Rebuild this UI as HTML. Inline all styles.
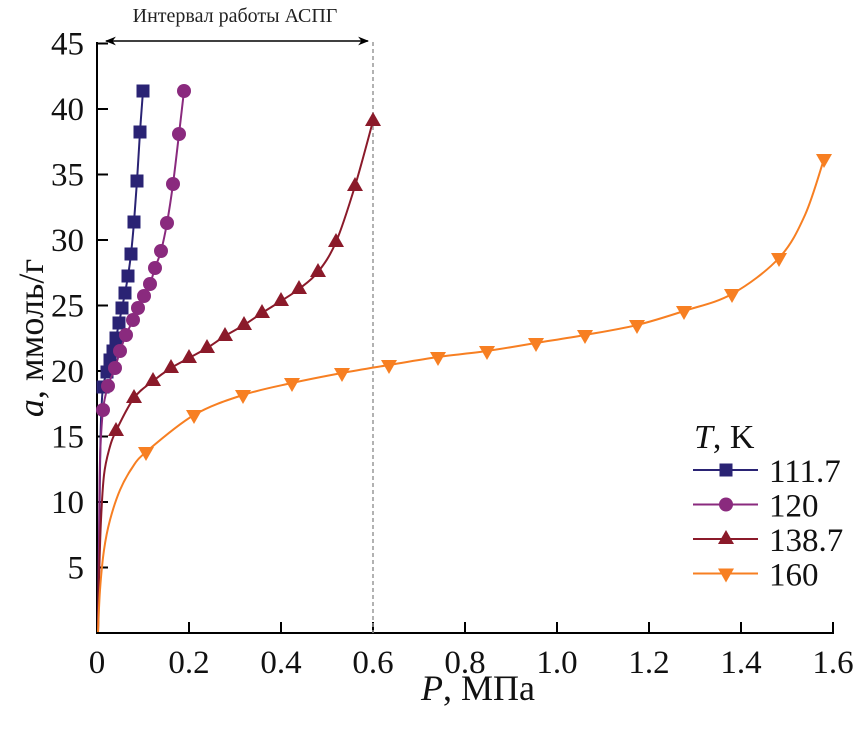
<!DOCTYPE html>
<html><head><meta charset="utf-8"><style>html,body{margin:0;padding:0;background:#fff}</style></head>
<body>
<svg id="s" width="855" height="732" xmlns="http://www.w3.org/2000/svg" font-family="Liberation Serif, serif">
<defs>
<marker id="ah" viewBox="0 0 10 10" refX="9" refY="5" markerWidth="11" markerHeight="11" orient="auto-start-reverse" markerUnits="userSpaceOnUse"><path d="M0,1 L10,5 L0,9 L3,5 Z" fill="#000"/></marker>
</defs>
<line x1="97" y1="42" x2="97" y2="633" stroke="#000" stroke-width="2"/>
<line x1="96" y1="633" x2="834" y2="633" stroke="#000" stroke-width="2"/>
<g id="ticks" stroke="#000" stroke-width="2"></g>
<g id="labels" font-size="33" fill="#111"></g>
<line x1="373" y1="42" x2="373" y2="633" stroke="#999" stroke-width="1.5" stroke-dasharray="4,3"/>
<line x1="106" y1="41" x2="368" y2="41" stroke="#000" stroke-width="1.5" marker-start="url(#ah)" marker-end="url(#ah)"/>
<text x="235" y="22" font-size="20" text-anchor="middle" fill="#222">Интервал работы АСПГ</text>
<text x="478" y="700" font-size="36" text-anchor="middle" fill="#111"><tspan font-style="italic">P</tspan>, МПа</text>
<text transform="translate(43,338) rotate(-90)" font-size="36" text-anchor="middle" fill="#111"><tspan font-style="italic">a</tspan>, ммоль/г</text>
<g id="series"></g>
<text x="694" y="448" font-size="34" fill="#111"><tspan font-style="italic">T</tspan>, K</text>
<g id="leg" font-size="33" fill="#111"></g>
</svg>
<script>
var NS="http://www.w3.org/2000/svg";
function el(p,t,a){var e=document.createElementNS(NS,t);for(var k in a)e.setAttribute(k,a[k]);p.appendChild(e);return e;}
var T=document.getElementById('ticks'),L=document.getElementById('labels');
for(var i=0;i<=8;i++){var x=97+i*92;if(i>0)el(T,'line',{x1:x,y1:633,x2:x,y2:622});
 var t=el(L,'text',{x:x,y:673,'text-anchor':'middle'});t.textContent=i==0?'0':(i*0.2).toFixed(1);}
for(var v=5;v<=45;v+=5){var y=633-v*13.1;el(T,'line',{x1:97,y1:y,x2:108,y2:y});
 var t=el(L,'text',{x:84,y:y+11,'text-anchor':'end'});t.textContent=v;}
var S=document.getElementById('series');
function mk(g,type,x,y,c){
 if(type=='sq')el(g,'rect',{x:x-6.5,y:y-6.5,width:13,height:13,fill:c});
 else if(type=='ci')el(g,'circle',{cx:x,cy:y,r:7,fill:c});
 else if(type=='up')el(g,'path',{d:'M'+x+','+(y-9)+'L'+(x+8)+','+(y+5)+'L'+(x-8)+','+(y+5)+'Z',fill:c});
 else el(g,'path',{d:'M'+x+','+(y+9)+'L'+(x+8)+','+(y-5)+'L'+(x-8)+','+(y-5)+'Z',fill:c});}
function smooth(p){var s='M'+p[0][0]+','+p[0][1];
 for(var i=0;i<p.length-1;i++){var a=p[i-1]||p[i],b=p[i],c=p[i+1],d=p[i+2]||c;
  s+='C'+(b[0]+(c[0]-a[0])/6)+','+(b[1]+(c[1]-a[1])/6)+' '+(c[0]-(d[0]-b[0])/6)+','+(c[1]-(d[1]-b[1])/6)+' '+c[0]+','+c[1];}
 return s;}
var data=[
 ['#2a2374','sq',[[98,632],[99,560],[100,470],[101,420],[103,387],[107,372],[110,360],[113,351],[116,338],[119,323],[122,308],[125,293],[128,276],[131,254],[134,222],[137,181],[140,132],[143,91]],4],
 ['#8a2a7e','ci',[[98,632],[99,540],[100,460],[103,410],[108,386],[115,368],[120,351],[126,335],[133,320],[138,308],[144,296],[150,284],[155,268],[161,251],[167,223],[173,184],[179,134],[184,91]],3],
 ['#8b1a2a','up',[[98,632],[99,580],[101,520],[104,475],[109,450],[116,431],[134,398],[153,381],[171,368],[189,358],[207,348],[225,336],[244,325],[262,313],[281,301],[299,289],[318,272],[336,242],[355,186],[373,121]],5],
 ['#f77f22','dn',[[98,632],[100,590],[104,550],[110,520],[120,490],[132,468],[146,452],[194,415],[243,395],[292,383],[342,373],[389,365],[438,357],[487,351],[536,343],[585,335],[637,325],[684,311],[732,294],[779,258],[805,215],[824,159]],6]];
data.forEach(function(d,k){
 var pts=d[2];
 el(S,'path',{d:smooth(pts),fill:'none',stroke:d[0],'stroke-width':2});
 pts.slice(d[3]).forEach(function(p){ if(k==3&&p[0]==805)return; mk(S,d[1],p[0],p[1],d[0]);});
 var y=470+k*34.5;
 var G=document.getElementById('leg');
 el(G,'line',{x1:693,y1:y,x2:758,y2:y,stroke:d[0],'stroke-width':2});
 mk(G,d[1],726,y,d[0]);
 var t=el(G,'text',{x:769,y:y+12});t.textContent=['111.7','120','138.7','160'][k];
});
</script>
</body></html>
